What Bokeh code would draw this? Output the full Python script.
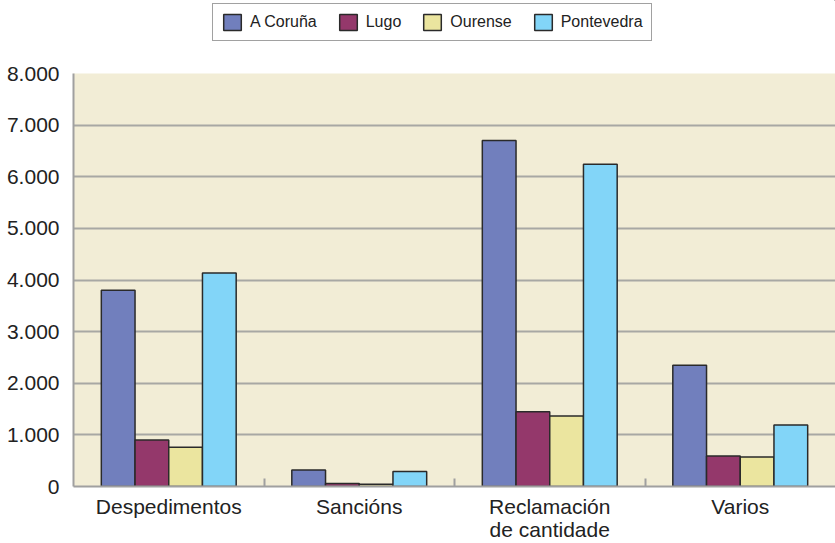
import numpy as np
from bokeh.plotting import figure
from bokeh.layouts import column
from bokeh.models import FixedTicker, Legend, LegendItem, Range1d, ColumnDataSource
from bokeh.embed import file_html
from bokeh.resources import INLINE

categories = ["Despedimentos", "Sancións", "Reclamación\nde cantidade", "Varios"]
series = ["A Coruña", "Lugo", "Ourense", "Pontevedra"]
a_coruna = [3800, 320, 6700, 2350]
lugo = [900, 60, 1450, 590]
ourense = [760, 45, 1365, 570]
pontevedra = [4135, 290, 6240, 1190]
colors = ["#717FBD", "#94386B", "#EBE59F", "#82D5F8"]
y_ticks = [0, 1000, 2000, 3000, 4000, 5000, 6000, 7000, 8000]
y_tick_labels = ["0", "1.000", "2.000", "3.000", "4.000", "5.000", "6.000", "7.000", "8.000"]

FONT = "Liberation Sans"
BAR_LINE = "#2A2A2A"

# ---- legend strip ----
lf = figure(width=835, height=61, output_backend="svg", toolbar_location=None,
            x_range=Range1d(0, 1), y_range=Range1d(0, 1),
            x_axis_type=None, y_axis_type=None,
            min_border_left=0, min_border_right=0, min_border_top=0, min_border_bottom=0)
lf.outline_line_color = None
lf.xgrid.grid_line_color = None
lf.ygrid.grid_line_color = None
lf.background_fill_color = "white"
lf.border_fill_color = "white"
leg_items = []
for name, col in zip(series, colors):
    # placed outside the visible range: only used for its legend swatch
    r = lf.vbar(x=[5], top=[5], bottom=[4], width=0.1, fill_color=col,
                line_color=BAR_LINE, line_width=1.5)
    leg_items.append(LegendItem(label=name, renderers=[r]))
legend = Legend(items=leg_items, orientation="horizontal", location=(139, 20))
legend.label_text_font = FONT
legend.label_text_font_size = "16px"
legend.label_text_color = "#222222"
legend.glyph_width = 22
legend.glyph_height = 20
legend.label_height = 20
legend.label_standoff = 7
legend.spacing = 20
legend.padding = 8
legend.margin = 0
legend.border_line_color = "#444444"
legend.border_line_width = 1
legend.background_fill_color = "white"
legend.background_fill_alpha = 1
lf.add_layout(legend, "center")

# ---- main chart ----
p = figure(width=835, height=482, output_backend="svg", toolbar_location=None,
           x_range=Range1d(0, 4), y_range=Range1d(0, 8000),
           min_border_left=73, min_border_right=0, min_border_top=12, min_border_bottom=56)
p.background_fill_color = "#F2EDD6"
p.border_fill_color = "white"
p.outline_line_color = None

bar_w = 0.177
offsets = [-1.5 * bar_w, -0.5 * bar_w, 0.5 * bar_w, 1.5 * bar_w]
all_vals = [a_coruna, lugo, ourense, pontevedra]
for name, vals, off, col in zip(series, all_vals, offsets, colors):
    xs = np.arange(len(categories)) + 0.5 + off
    src = ColumnDataSource(dict(x=xs, top=vals))
    p.vbar(x="x", top="top", width=bar_w, bottom=0, source=src,
           fill_color=col, line_color=BAR_LINE, line_width=1.5)

# grid
p.xgrid.grid_line_color = None
p.ygrid.ticker = FixedTicker(ticks=y_ticks)
p.ygrid.grid_line_color = "#A8A8A4"
p.ygrid.grid_line_width = 2

# y axis
p.yaxis.ticker = FixedTicker(ticks=y_ticks)
p.yaxis.major_label_overrides = {t: l for t, l in zip(y_ticks, y_tick_labels)}
p.yaxis.major_tick_line_color = None
p.yaxis.minor_tick_line_color = None
p.yaxis.axis_line_color = "#A0A0A0"
p.yaxis.axis_line_width = 2
p.yaxis.major_label_text_font = FONT
p.yaxis.major_label_text_font_size = "21px"
p.yaxis.major_label_text_color = "#222222"
p.yaxis.major_label_standoff = 8

# x axis
centers = [i + 0.5 for i in range(len(categories))]
bounds = [i for i in range(1, len(categories))]
p.xaxis.ticker = FixedTicker(ticks=centers, minor_ticks=bounds)
p.xaxis.major_label_overrides = {c: l for c, l in zip(centers, categories)}
p.xaxis.major_tick_line_color = None
p.xaxis.minor_tick_in = 8
p.xaxis.minor_tick_out = 0
p.xaxis.minor_tick_line_color = "#A0A0A0"
p.xaxis.minor_tick_line_width = 2
p.xaxis.axis_line_color = "#A0A0A0"
p.xaxis.axis_line_width = 2
p.xaxis.major_label_text_font = FONT
p.xaxis.major_label_text_font_size = "21px"
p.xaxis.major_label_text_color = "#222222"
p.xaxis.major_label_text_line_height = 1.0
p.xaxis.major_label_standoff = 2

layout = column(lf, p, spacing=0)
open("out.html", "w").write(file_html(layout, INLINE))
